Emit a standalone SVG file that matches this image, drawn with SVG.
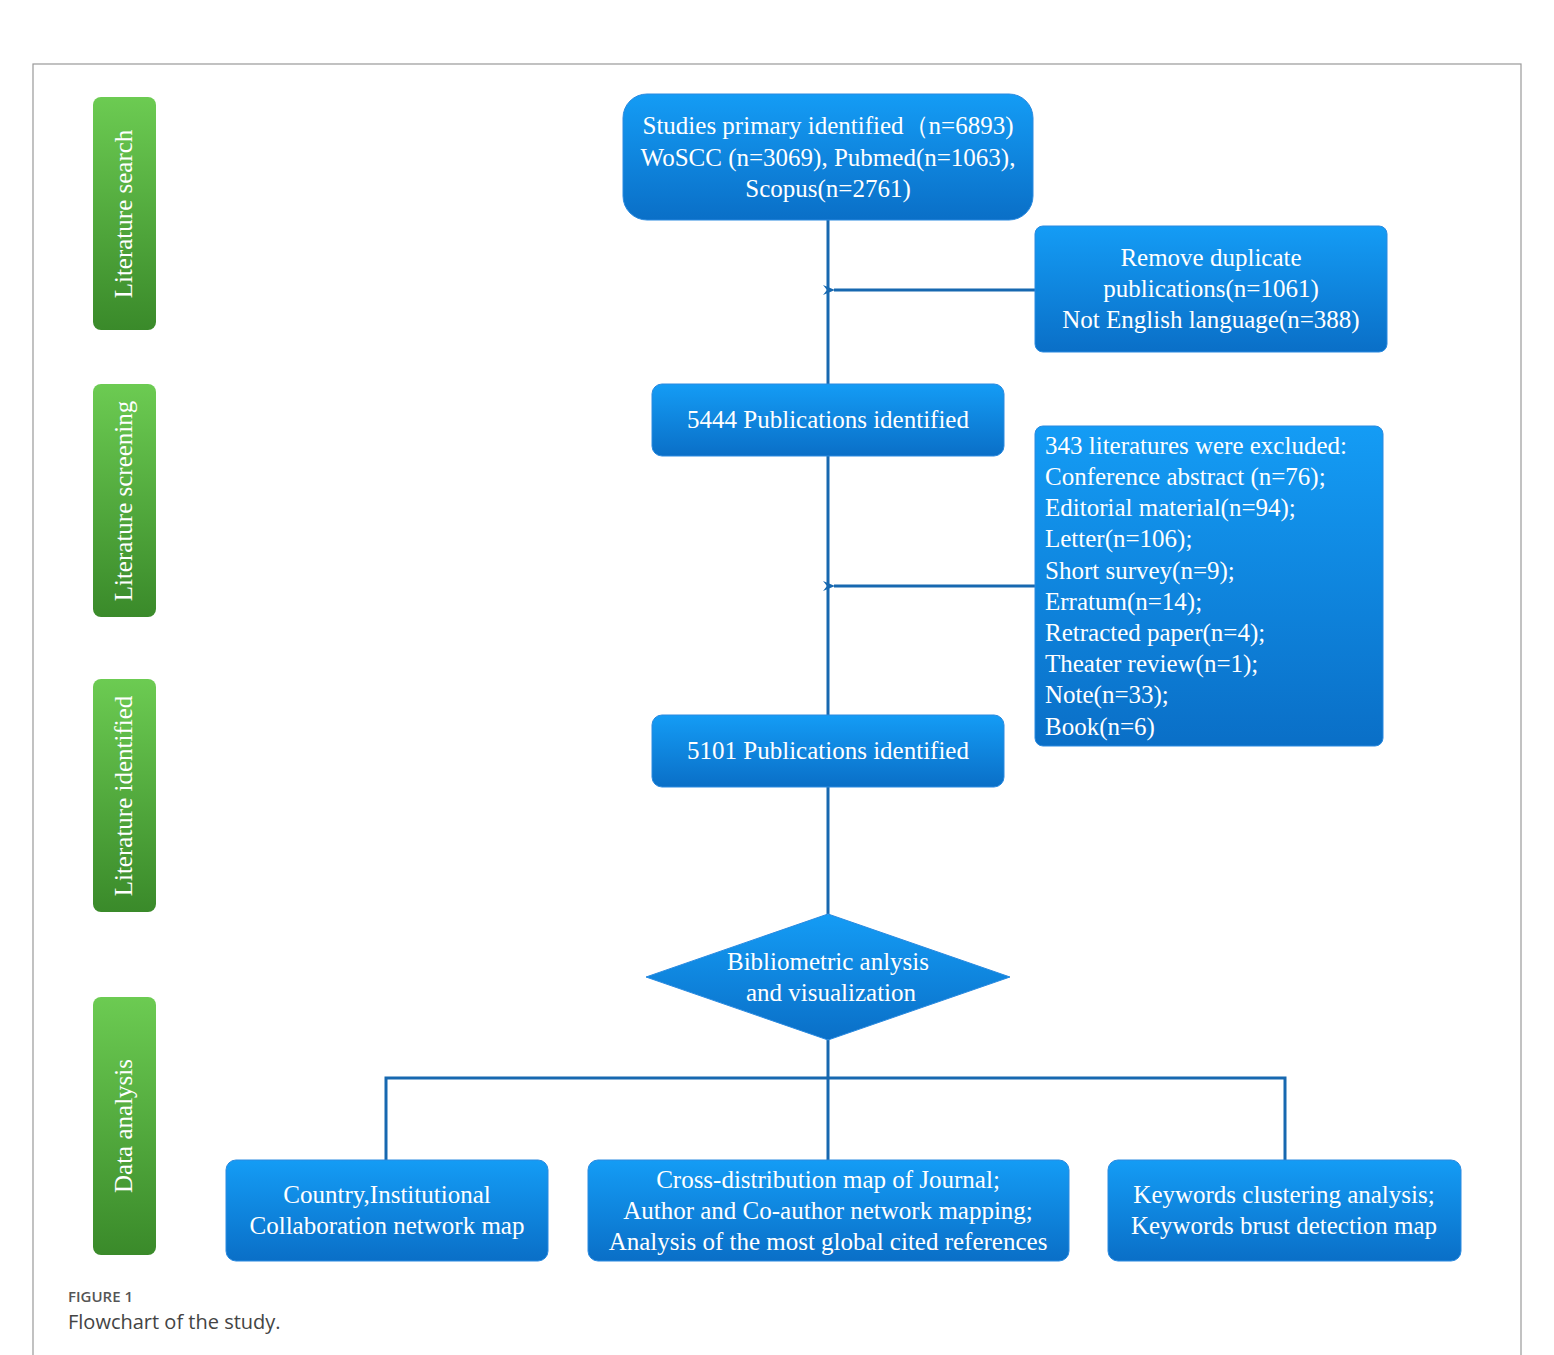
<svg xmlns="http://www.w3.org/2000/svg" width="1554" height="1355" viewBox="0 0 1554 1355">
<defs>
<linearGradient id="bg" x1="0" y1="0" x2="0" y2="1"><stop offset="0" stop-color="#149cf5"/><stop offset="1" stop-color="#0a6fc7"/></linearGradient>
<linearGradient id="gg" x1="0" y1="0" x2="0" y2="1"><stop offset="0" stop-color="#6ccb52"/><stop offset="1" stop-color="#3a8a2a"/></linearGradient>
<marker id="ah" markerWidth="12" markerHeight="10" refX="1" refY="5" orient="auto" markerUnits="userSpaceOnUse"><path d="M12,0 L0,5 L12,10 L8,5 Z" fill="#1768b0"/></marker>
<style>
.b{fill:url(#bg);stroke:#2a8ae0;stroke-width:1}
.g{fill:url(#gg)}
.t{font-family:"Liberation Serif",serif;font-size:25px;fill:#fff}
.c{text-anchor:middle}
.l{stroke:#1768b0;stroke-width:3;fill:none}
</style>
</defs>
<rect x="33" y="64" width="1488" height="1300" fill="#fff" stroke="#999" stroke-width="1.2"/>
<g id="labels">
<g id="lab1"><rect class="g" x="93" y="97" width="63" height="233" rx="8"/><text class="t c" transform="translate(132,214) rotate(-90)">Literature search</text></g>
<g id="lab2"><rect class="g" x="93" y="384" width="63" height="233" rx="8"/><text class="t c" transform="translate(132,501) rotate(-90)">Literature screening</text></g>
<g id="lab3"><rect class="g" x="93" y="679" width="63" height="233" rx="8"/><text class="t c" transform="translate(132,796) rotate(-90)">Literature identified</text></g>
<g id="lab4"><rect class="g" x="93" y="997" width="63" height="258" rx="8"/><text class="t c" transform="translate(132,1126) rotate(-90)">Data analysis</text></g>
</g>
<g id="connectors">
<path class="l" d="M828,220 V384 M828,456 V715 M828,787 V914 M828,1040 V1160 M386,1160 V1078 H1285 V1160"/>
<path class="l" d="M1035,290 H834" marker-end="url(#ah)"/>
<path class="l" d="M1035,586 H834" marker-end="url(#ah)"/>
</g>
<g id="n1"><rect class="b" x="623" y="94" width="410" height="126" rx="24"/>
<text class="t c" x="828" y="134">Studies primary identified（n=6893)</text>
<text class="t c" x="828" y="166">WoSCC (n=3069), Pubmed(n=1063),</text>
<text class="t c" x="828" y="197">Scopus(n=2761)</text></g>
<g id="n2"><rect class="b" x="1035" y="226" width="352" height="126" rx="8"/>
<text class="t c" x="1211" y="266">Remove duplicate</text>
<text class="t c" x="1211" y="297">publications(n=1061)</text>
<text class="t c" x="1211" y="328">Not English language(n=388)</text></g>
<g id="n3"><rect class="b" x="652" y="384" width="352" height="72" rx="10"/>
<text class="t c" x="828" y="428">5444 Publications  identified</text></g>
<g id="n4"><rect class="b" x="1035" y="426" width="348" height="320" rx="8"/>
<g class="t"><text x="1045" y="454">343 literatures were excluded:</text>
<text x="1045" y="485">Conference abstract (n=76);</text>
<text x="1045" y="516">Editorial material(n=94);</text>
<text x="1045" y="547">Letter(n=106);</text>
<text x="1045" y="579">Short survey(n=9);</text>
<text x="1045" y="610">Erratum(n=14);</text>
<text x="1045" y="641">Retracted paper(n=4);</text>
<text x="1045" y="672">Theater review(n=1);</text>
<text x="1045" y="703">Note(n=33);</text>
<text x="1045" y="735">Book(n=6)</text></g></g>
<g id="n5"><rect class="b" x="652" y="715" width="352" height="72" rx="10"/>
<text class="t c" x="828" y="759">5101 Publications  identified</text></g>
<g id="n6"><path class="b" d="M828,914 L1010,977 L828,1040 L646,977 Z"/>
<text class="t c" x="828" y="970">Bibliometric anlysis</text>
<text class="t c" x="831" y="1001">and visualization</text></g>
<g id="n7"><rect class="b" x="226" y="1160" width="322" height="101" rx="10"/>
<text class="t c" x="387" y="1203">Country,Institutional</text>
<text class="t c" x="387" y="1234">Collaboration network map</text></g>
<g id="n8"><rect class="b" x="588" y="1160" width="481" height="101" rx="10"/>
<text class="t c" x="828" y="1188">Cross-distribution map of Journal;</text>
<text class="t c" x="828" y="1219">Author and Co-author network mapping;</text>
<text class="t c" x="828" y="1250">Analysis of the most global cited references</text></g>
<g id="n9"><rect class="b" x="1108" y="1160" width="353" height="101" rx="10"/>
<text class="t c" x="1284" y="1203">Keywords clustering analysis;</text>
<text class="t c" x="1284" y="1234">Keywords brust detection map</text></g>
<text x="68" y="1302" font-family="Open Sans,sans-serif" font-size="15" font-weight="600" fill="#555">FIGURE 1</text>
<text x="68" y="1329" font-family="Open Sans,sans-serif" font-size="20" fill="#444">Flowchart of the study.</text>
</svg>
